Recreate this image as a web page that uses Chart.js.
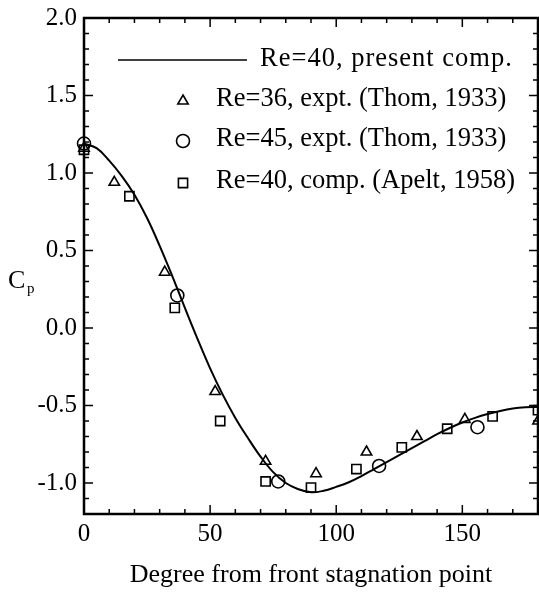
<!DOCTYPE html>
<html>
<head>
<meta charset="utf-8">
<script src="https://cdn.jsdelivr.net/npm/chart.js@4.4.1/dist/chart.umd.min.js"></script>
<style>
  html, body { margin: 0; padding: 0; background: #fff; }
  canvas { display: block; }
</style>
</head>
<body>
<canvas id="graficoCp" width="539" height="592"></canvas>
<script>
// Curva calculada, Re=40 (grados desde el punto de estancamiento, Cp)
const anguloCurva = [0, 5, 10, 15, 20, 25, 30, 35, 40, 45, 50, 55, 60, 65, 70, 75, 80, 85, 90,
  95, 100, 105, 110, 115, 120, 125, 130, 135, 140, 145, 150, 155, 160, 165, 170, 175, 180];
const cpCurva = [1.19, 1.16, 1.08, 0.98, 0.86, 0.71, 0.53, 0.335, 0.13, -0.07, -0.26, -0.43, -0.58,
  -0.71, -0.83, -0.93, -1.00, -1.04, -1.06, -1.05, -1.025, -0.995, -0.955, -0.91, -0.865, -0.82,
  -0.775, -0.73, -0.685, -0.645, -0.61, -0.58, -0.555, -0.535, -0.52, -0.512, -0.51];

// Experimento Re=36 (Thom, 1933)
const anguloRe36 = [0, 12, 32, 52, 72, 92, 112, 132, 151, 180];
const cpRe36 = [1.16, 0.94, 0.36, -0.41, -0.86, -0.94, -0.80, -0.70, -0.59, -0.60];

// Experimento Re=45 (Thom, 1933)
const anguloRe45 = [0, 37, 77, 117, 156];
const cpRe45 = [1.19, 0.21, -0.99, -0.89, -0.64];

// Cálculo Re=40 (Apelt, 1958)
const anguloApelt = [0, 18, 36, 54, 72, 90, 108, 126, 144, 162, 180];
const cpApelt = [1.15, 0.85, 0.13, -0.60, -0.99, -1.03, -0.91, -0.77, -0.65, -0.57, -0.53];

// Etiquetas de los ejes
const ticksX = [0, 50, 100, 150];
const ticksY = [-1.0, -0.5, 0.0, 0.5, 1.0, 1.5, 2.0];

const fuente = '"Liberation Serif", "Times New Roman", serif';

const puntos = (xs, ys) => xs.map((x, i) => ({ x: x, y: ys[i] }));

// Marco completo con marcas hacia dentro en los cuatro lados
const marco = {
  id: 'marco',
  beforeDatasetsDraw(chart) {
    const { ctx, chartArea: a, scales: { x, y } } = chart;
    ctx.save();
    ctx.strokeStyle = '#000';
    ctx.lineWidth = 1.5;
    ctx.beginPath();
    for (let v = 0; v <= 180; v += 10) {
      const px = x.getPixelForValue(v);
      const largo = v % 50 === 0 ? 9 : 5;
      ctx.moveTo(px, a.bottom); ctx.lineTo(px, a.bottom - largo);
      ctx.moveTo(px, a.top); ctx.lineTo(px, a.top + largo);
    }
    for (let i = -12; i <= 20; i++) {
      const py = y.getPixelForValue(i / 10);
      const largo = i % 5 === 0 ? 9 : 5;
      ctx.moveTo(a.left, py); ctx.lineTo(a.left + largo, py);
      ctx.moveTo(a.right, py); ctx.lineTo(a.right - largo, py);
    }
    ctx.stroke();
    ctx.lineWidth = 2.5;
    ctx.strokeRect(a.left, a.top, a.right - a.left, a.bottom - a.top);
    ctx.restore();
  }
};

// Leyenda dentro del área y rótulo C_p con subíndice
const leyenda = {
  id: 'leyenda',
  afterDraw(chart) {
    const ctx = chart.ctx;
    const ds = chart.data.datasets;
    ctx.save();
    ctx.fillStyle = '#000';
    ctx.strokeStyle = '#000';
    ctx.textBaseline = 'alphabetic';
    ctx.font = '26.5px ' + fuente;

    ctx.lineWidth = 1.5;
    ctx.beginPath();
    ctx.moveTo(118, 60);
    ctx.lineTo(247, 60);
    ctx.stroke();
    ctx.letterSpacing = '1px';
    ctx.fillText(ds[0].label, 260, 66);
    ctx.letterSpacing = '0px';

    const filas = [101, 141, 183];
    for (let i = 1; i < ds.length; i++) {
      const yf = filas[i - 1];
      ctx.fillStyle = 'rgba(0,0,0,0)';
      ctx.lineWidth = ds[i].pointBorderWidth;
      Chart.helpers.drawPoint(ctx, {
        pointStyle: ds[i].pointStyle,
        radius: ds[i].pointRadius,
        borderWidth: ds[i].pointBorderWidth,
        rotation: 0
      }, 183, yf);
      ctx.fillStyle = '#000';
      ctx.fillText(ds[i].label, 216, yf + 5);
    }

    ctx.font = '26px ' + fuente;
    ctx.fillText('C', 8, 288);
    ctx.font = '15px ' + fuente;
    ctx.fillText('p', 27, 293);
    ctx.restore();
  }
};

const estiloPunto = {
  borderColor: '#000',
  backgroundColor: 'rgba(0,0,0,0)',
  pointBorderWidth: 1.6,
  showLine: false,
  clip: false
};

new Chart(document.getElementById('graficoCp'), {
  type: 'scatter',
  data: {
    datasets: [
      {
        label: 'Re=40, present comp.',
        type: 'line',
        data: puntos(anguloCurva, cpCurva),
        borderColor: '#000',
        borderWidth: 2,
        pointRadius: 0,
        tension: 0.4,
        fill: false
      },
      Object.assign({
        label: 'Re=36, expt. (Thom, 1933)',
        data: puntos(anguloRe36, cpRe36),
        pointStyle: 'triangle',
        pointRadius: 6
      }, estiloPunto),
      Object.assign({
        label: 'Re=45, expt. (Thom, 1933)',
        data: puntos(anguloRe45, cpRe45),
        pointStyle: 'circle',
        pointRadius: 6.5
      }, estiloPunto),
      Object.assign({
        label: 'Re=40, comp. (Apelt, 1958)',
        data: puntos(anguloApelt, cpApelt),
        pointStyle: 'rect',
        pointRadius: 6.5
      }, estiloPunto)
    ]
  },
  options: {
    responsive: false,
    animation: false,
    devicePixelRatio: 1,
    layout: { autoPadding: false, padding: { top: 18, right: 1, left: 0, bottom: 0 } },
    plugins: {
      legend: { display: false },
      tooltip: { enabled: false }
    },
    scales: {
      x: {
        type: 'linear',
        position: 'bottom',
        min: 0,
        max: 180,
        afterBuildTicks: s => { s.ticks = ticksX.map(v => ({ value: v })); },
        afterFit: s => { s.height = 78; s.paddingLeft = 0; s.paddingRight = 0; },
        grid: { display: false, drawTicks: false },
        border: { display: false },
        ticks: {
          color: '#000',
          padding: 5,
          font: { family: fuente, size: 25 },
          callback: v => String(v)
        },
        title: {
          display: true,
          text: 'Degree from front stagnation point',
          color: '#000',
          font: { family: fuente, size: 26 },
          padding: { top: 0, bottom: 1 }
        }
      },
      y: {
        type: 'linear',
        min: -1.2,
        max: 2.0,
        afterBuildTicks: s => { s.ticks = ticksY.map(v => ({ value: v })); },
        afterFit: s => { s.width = 84; s.paddingTop = 0; s.paddingBottom = 0; },
        grid: { display: false, drawTicks: false },
        border: { display: false },
        ticks: {
          color: '#000',
          padding: 7,
          font: { family: fuente, size: 25 },
          callback: v => v.toFixed(1)
        }
      }
    }
  },
  plugins: [marco, leyenda]
});
</script>
</body>
</html>
